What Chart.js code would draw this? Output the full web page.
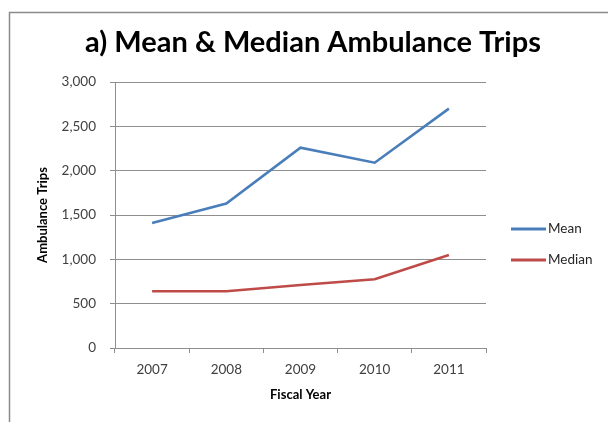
<!DOCTYPE html>
<html>
<head>
<meta charset="utf-8">
<script src="https://cdn.jsdelivr.net/npm/chart.js@4"></script>
<style>
  html, body { margin: 0; padding: 0; background: #fff; }
  #wrap { width: 608px; height: 422px; position: relative; }
</style>
</head>
<body>
<div id="wrap"><canvas id="c" width="608" height="422"></canvas></div>
<script>
const categories = ['2007', '2008', '2009', '2010', '2011'];
const meanTrips = [1410, 1630, 2260, 2090, 2700];
const medianTrips = [640, 640, 710, 775, 1050];
const seriesNames = ['Mean', 'Median'];
const yTicks = [0, 500, 1000, 1500, 2000, 2500, 3000];
const chartTitle = 'a) Mean & Median Ambulance Trips';
const xTitle = 'Fiscal Year';
const yTitle = 'Ambulance Trips';

const FONT = 'Lato, "Open Sans", sans-serif';
const GRID = '#8e8e8e';

const framePlugin = {
  id: 'frame',
  beforeDraw(chart) {
    const ctx = chart.ctx;
    ctx.save();
    ctx.fillStyle = '#ffffff';
    ctx.fillRect(0, 0, chart.width, chart.height);
    ctx.strokeStyle = '#8a8a8a';
    ctx.lineWidth = 1.5;
    ctx.beginPath();
    ctx.moveTo(9.5, chart.height);
    ctx.lineTo(9.5, 12.5);
    ctx.lineTo(chart.width, 12.5);
    ctx.stroke();
    ctx.restore();
  }
};

const sideLegend = {
  id: 'sideLegend',
  afterDraw(chart) {
    const ctx = chart.ctx;
    const area = chart.chartArea;
    const x0 = area.right + 25;
    const startY = 229;
    const gap = 31;
    ctx.save();
    ctx.font = '13.5px ' + FONT;
    ctx.textBaseline = 'middle';
    ctx.textAlign = 'left';
    chart.data.datasets.forEach((ds, i) => {
      const y = startY + i * gap;
      ctx.strokeStyle = ds.borderColor;
      ctx.lineWidth = 3;
      ctx.beginPath();
      ctx.moveTo(x0, y);
      ctx.lineTo(x0 + 35, y);
      ctx.stroke();
      ctx.fillStyle = '#262626';
      ctx.fillText(ds.label, x0 + 37, y);
    });
    ctx.restore();
  }
};

new Chart(document.getElementById('c'), {
  type: 'line',
  data: {
    labels: categories,
    datasets: [
      { label: seriesNames[0], data: meanTrips, borderColor: '#4a7ebb', backgroundColor: '#4a7ebb', borderWidth: 2.6, pointRadius: 0, tension: 0 },
      { label: seriesNames[1], data: medianTrips, borderColor: '#be4b48', backgroundColor: '#be4b48', borderWidth: 2.6, pointRadius: 0, tension: 0 }
    ]
  },
  options: {
    responsive: false,
    animation: false,
    layout: { padding: { left: 18, right: 0, top: 0, bottom: 0 } },
    plugins: {
      legend: { display: false },
      tooltip: { enabled: false },
      title: {
        display: true,
        text: chartTitle,
        color: '#000',
        font: { family: FONT, size: 29, weight: 'bold' },
        padding: { top: 25, bottom: 22.2 },
        align: 'center'
      }
    },
    scales: {
      x: {
        type: 'category',
        offset: true,
        grid: { display: true, drawOnChartArea: false, drawTicks: true, tickLength: 5, color: GRID, offset: true },
        border: { display: true, color: GRID, width: 1 },
        ticks: { color: '#404040', font: { family: FONT, size: 13.5 }, padding: 9, maxRotation: 0 },
        title: { display: true, text: xTitle, color: '#000', font: { family: FONT, size: 13, weight: 'bold' }, padding: { top: 0, bottom: 19 } },
        afterFit(scale) { scale.height = 74; }
      },
      y: {
        min: 0,
        max: 3000,
        afterBuildTicks(scale) { scale.ticks = yTicks.map(v => ({ value: v })); },
        grid: { display: true, drawOnChartArea: true, drawTicks: true, tickLength: 5, color: GRID, lineWidth: 1 },
        border: { display: true, color: GRID, width: 1 },
        ticks: { color: '#404040', font: { family: FONT, size: 13.5 }, padding: 14, callback: v => v.toLocaleString('en-US') },
        title: { display: true, text: yTitle, color: '#000', font: { family: FONT, size: 13, weight: 'bold' }, padding: { top: 17, bottom: 0 } },
        afterFit(scale) { scale.width = 97; }
      },
      legendSpace: {
        type: 'linear',
        position: 'right',
        display: true,
        grid: { display: false, drawTicks: false },
        border: { display: false },
        ticks: { display: false },
        afterFit(scale) { scale.width = 122; }
      }
    }
  },
  plugins: [framePlugin, sideLegend]
});
</script>
</body>
</html>
